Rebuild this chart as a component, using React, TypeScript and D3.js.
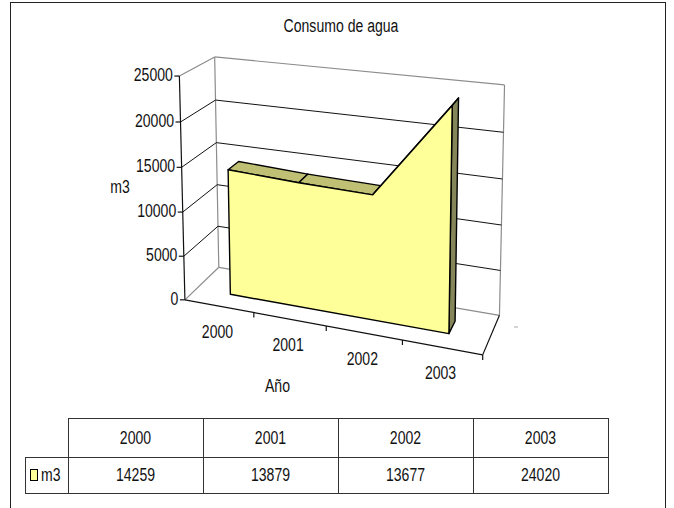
import React from 'react';
import * as d3 from 'd3';

// ---------- data ----------
const categories = ['2000', '2001', '2002', '2003'];
const values = [14259, 13879, 13677, 24020];
const yTicks = [0, 5000, 10000, 15000, 20000, 25000];
const seriesName = 'm3';
const chartTitle = 'Consumo de agua';
const xTitle = 'Año';
const yTitle = 'm3';

// ---------- layout: calibration of the 3D frame (world X,Y,Z in 0..1 -> screen px) ----------
const frameCalib: number[][] = [
  [0, 0, 0, 185.7, 300],
  [0, 1, 0, 180, 76.5],
  [0, 0, 1, 219, 267],
  [0, 1, 1, 214, 57.5],
  [1, 1, 1, 505, 85],
  [1, 0, 1, 499.5, 315],
  [1, 0, 0, 482.7, 353.3],
  [0.25, 0, 0, 255, 313.3],
  [0.5, 0, 0, 325.7, 326.7],
  [0.75, 0, 0, 401.7, 341.7],
  [0, 0.2, 0, 183.3, 256],
  [0, 0.4, 0, 181.7, 211],
  [0, 0.6, 0, 181.7, 166.7],
  [0, 0.8, 0, 180.7, 121.7],
];

const FONT = "'Liberation Sans', Arial, sans-serif";
const FS = 19;
const NARROW = 0.74;

function solveLinear(A: number[][], b: number[]): number[] {
  const n = b.length;
  const M = A.map((r, i) => [...r, b[i]]);
  for (let c = 0; c < n; c++) {
    let piv = c;
    for (let r = c + 1; r < n; r++) if (Math.abs(M[r][c]) > Math.abs(M[piv][c])) piv = r;
    [M[c], M[piv]] = [M[piv], M[c]];
    for (let r = 0; r < n; r++) {
      if (r === c) continue;
      const f = M[r][c] / M[c][c];
      for (let k = c; k <= n; k++) M[r][k] -= f * M[c][k];
    }
  }
  return M.map((r, i) => r[n] / r[i]);
}

const U0 = 340, V0 = 200, S = 100;
function fitProjection(pairs: number[][]) {
  const rows: number[][] = [];
  const rhs: number[] = [];
  for (const [X, Y, Z, u0, v0] of pairs) {
    const u = (u0 - U0) / S, v = (v0 - V0) / S;
    rows.push([X, Y, Z, 1, 0, 0, 0, 0, -u * X, -u * Y, -u * Z]); rhs.push(u);
    rows.push([0, 0, 0, 0, X, Y, Z, 1, -v * X, -v * Y, -v * Z]); rhs.push(v);
  }
  const n = 11;
  const AtA = Array.from({ length: n }, () => new Array(n).fill(0));
  const Atb = new Array(n).fill(0);
  rows.forEach((r, i) => {
    for (let a = 0; a < n; a++) {
      Atb[a] += r[a] * rhs[i];
      for (let c = 0; c < n; c++) AtA[a][c] += r[a] * r[c];
    }
  });
  const p = solveLinear(AtA, Atb);
  return (X: number, Y: number, Z: number): [number, number] => {
    const w = p[8] * X + p[9] * Y + p[10] * Z + 1;
    const u = (p[0] * X + p[1] * Y + p[2] * Z + p[3]) / w;
    const v = (p[4] * X + p[5] * Y + p[6] * Z + p[7]) / w;
    return [u * S + U0, v * S + V0];
  };
}

const proj = fitProjection(frameCalib);

const xBand = d3.scaleBand<string>().domain(categories).range([0, 1]);
const yScale = d3.scaleLinear().domain([0, 25000]).range([0, 1]);
const xc = (c: string) => (xBand(c) as number) + xBand.bandwidth() / 2;

const zFront = 0.34, zBack = 0.66;

const line = d3.line<[number, number]>();
const poly = (pts: number[][]) => line(pts.map(p => proj(p[0], p[1], p[2]))) + 'Z';
const signedArea = (pts: number[][]) => {
  const q = pts.map(p => proj(p[0], p[1], p[2]));
  let a = 0;
  for (let i = 0; i < q.length; i++) {
    const [x1, y1] = q[i], [x2, y2] = q[(i + 1) % q.length];
    a += x1 * y2 - x2 * y1;
  }
  return a;
};

function Txt({ x, y, anchor = 'middle', children }: { x: number; y: number; anchor?: string; children: React.ReactNode }) {
  return (
    <text transform={`translate(${x},${y}) scale(${NARROW},1)`} textAnchor={anchor}
      dominantBaseline="middle" fill="#111">{children}</text>
  );
}

export default function App() {
  const pts = categories.map((c, i) => [xc(c), yScale(values[i])]);
  const n = pts.length;

  const front = [
    [pts[0][0], 0, zFront],
    ...pts.map(p => [p[0], p[1], zFront]),
    [pts[n - 1][0], 0, zFront],
  ];
  const refSign = Math.sign(signedArea(front));

  const faces: { d: string; fill: string }[] = [];
  for (let i = 0; i < n - 1; i++) {
    const a = pts[i], b = pts[i + 1];
    const f = [[a[0], a[1], zFront], [a[0], a[1], zBack], [b[0], b[1], zBack], [b[0], b[1], zFront]];
    if (Math.sign(signedArea(f)) === refSign) faces.push({ d: poly(f), fill: '#c0c074' });
  }
  const last = pts[n - 1], first = pts[0];
  const rightCap = [[last[0], 0, zFront], [last[0], last[1], zFront], [last[0], last[1], zBack], [last[0], 0, zBack]];
  const leftCap = [[first[0], 0, zFront], [first[0], 0, zBack], [first[0], first[1], zBack], [first[0], first[1], zFront]];
  if (Math.sign(signedArea(rightCap)) === refSign) faces.push({ d: poly(rightCap), fill: '#85855a' });
  if (Math.sign(signedArea(leftCap)) === refSign) faces.push({ d: poly(leftCap), fill: '#85855a' });

  const seg = (a: number[], b: number[]) => {
    const [x1, y1] = proj(a[0], a[1], a[2]);
    const [x2, y2] = proj(b[0], b[1], b[2]);
    return { x1, y1, x2, y2 };
  };
  const gray = '#8c8c8c';
  const inner = yTicks.slice(1, -1);
  const boundaries = [0.25, 0.5, 0.75, 1];

  const tX0 = 68, colW = 135, tY0 = 418, rowH1 = 39, rowH2 = 36, legX = 25;

  return (
    <svg width={674} height={508} style={{ position: 'absolute', left: 0, top: 0, background: '#fff' }}
      fontFamily={FONT} fontSize={FS}>
      <rect x={0} y={0} width={674} height={508} fill="#fff" />
      <rect x={10.5} y={2.5} width={655} height={520} fill="none" stroke="#222" strokeWidth={1} />
      <Txt x={341} y={27}>{chartTitle}</Txt>

      <g stroke={gray} strokeWidth={1.2} fill="none">
        <line {...seg([0, 1, 0], [0, 1, 1])} />
        <line {...seg([0, 0, 1], [0, 1, 1])} />
        <line {...seg([0, 1, 1], [1, 1, 1])} />
        <line {...seg([1, 0, 1], [1, 1, 1])} />
        <line {...seg([0, 0, 1], [1, 0, 1])} />
        <line {...seg([0, 0, 0], [0, 0, 1])} />
      </g>
      <g stroke="#111" strokeWidth={1}>
        {inner.map(t => <line key={'l' + t} {...seg([0, yScale(t), 0], [0, yScale(t), 1])} />)}
        {inner.map(t => <line key={'b' + t} {...seg([0, yScale(t), 1], [1, yScale(t), 1])} />)}
      </g>
      <g stroke="#111" strokeWidth={1.2}>
        <line {...seg([0, 0, 0], [0, 1, 0])} />
        <line {...seg([0, 0, 0], [1, 0, 0])} />
        <line {...seg([1, 0, 0], [1, 0, 1])} />
        {yTicks.map(t => {
          const [x, y] = proj(0, yScale(t), 0);
          return <line key={'yt' + t} x1={x - 5} y1={y} x2={x} y2={y} />;
        })}
        {boundaries.map(b => {
          const [x, y] = proj(b, 0, 0);
          return <line key={'xt' + b} x1={x} y1={y} x2={x} y2={y + 5} />;
        })}
      </g>
      <line x1={514} y1={327} x2={518} y2={327} stroke="#aaa" strokeWidth={1} />
      {yTicks.map(t => {
        const [x, y] = proj(0, yScale(t), 0);
        return <Txt key={'yl' + t} x={x - 6.5} y={y} anchor="end">{t}</Txt>;
      })}
      {categories.map(c => {
        const [x, y] = proj(xc(c), 0, 0);
        return <Txt key={'xl' + c} x={x - 1.5} y={y + 27}>{c}</Txt>;
      })}
      <Txt x={120} y={188}>{yTitle}</Txt>
      <Txt x={277.5} y={387}>{xTitle}</Txt>

      <g stroke="#000" strokeWidth={1.4} strokeLinejoin="round">
        {faces.map((f, i) => <path key={i} d={f.d} fill={f.fill} />)}
        <path d={poly(front)} fill="#ffff99" />
      </g>

      <g stroke="#333" strokeWidth={1} fill="none">
        <rect x={tX0 + 0.5} y={tY0 + 0.5} width={colW * categories.length} height={rowH1} />
        <rect x={legX + 0.5} y={tY0 + rowH1 + 0.5} width={tX0 - legX + colW * categories.length} height={rowH2} />
        {categories.map((c, i) => i > 0 ? (
          <line key={'v' + c} x1={tX0 + colW * i + 0.5} y1={tY0} x2={tX0 + colW * i + 0.5} y2={tY0 + rowH1 + rowH2} />
        ) : null)}
        <line x1={tX0 + 0.5} y1={tY0} x2={tX0 + 0.5} y2={tY0 + rowH1 + rowH2} />
      </g>
      {categories.map((c, i) => (
        <Txt key={'th' + c} x={tX0 + colW * (i + 0.5)} y={tY0 + rowH1 / 2 + 1}>{c}</Txt>
      ))}
      {values.map((v, i) => (
        <Txt key={'td' + i} x={tX0 + colW * (i + 0.5)} y={tY0 + rowH1 + rowH2 / 2 + 1}>{v}</Txt>
      ))}
      <rect x={30.5} y={469.5} width={7} height={11} fill="#ffff99" stroke="#000" strokeWidth={1} />
      <Txt x={41} y={tY0 + rowH1 + rowH2 / 2 + 1} anchor="start">{seriesName}</Txt>
    </svg>
  );
}
